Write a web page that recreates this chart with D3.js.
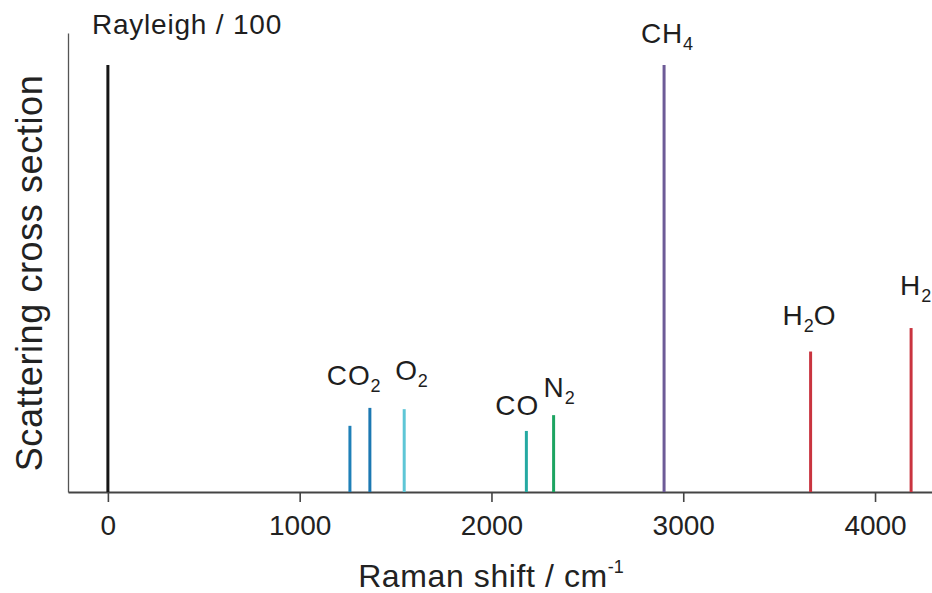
<!DOCTYPE html>
<html>
<head>
<meta charset="utf-8">
<script src="https://cdn.jsdelivr.net/npm/d3@7"></script>
<style>
  html, body { margin: 0; padding: 0; background: #fff; }
  svg { display: block; font-family: "Liberation Sans", Arial, Helvetica, sans-serif; }
</style>
</head>
<body>
<svg id="chart" width="932" height="593"></svg>
<script>
// Raman lines: shift (cm^-1) and relative scattering cross section
const species = ["Rayleigh", "CO2 (1285)", "CO2 (1388)", "O2", "CO", "N2", "CH4", "H2O", "H2"];
const shifts = [0, 1262, 1366, 1545, 2182, 2324, 2900, 3664, 4188];
const crossSections = [100, 15.5, 19.7, 19.4, 14.3, 18.0, 100, 32.9, 38.4];
const lineColors = ["#161616", "#1f80b8", "#1c78b2", "#5ec6d6", "#25a9a2", "#1ca461", "#6d5b97", "#c9343f", "#c9343f"];

// Label text: [main, subscript, trailing] parts, attached to a line index
const labelLine = [0, 2, 3, 4, 5, 6, 7, 8];
const labelParts = [
  ["Rayleigh / 100", "", ""],
  ["CO", "2", ""],
  ["O", "2", ""],
  ["CO", "", ""],
  ["N", "2", ""],
  ["CH", "4", ""],
  ["H", "2", "O"],
  ["H", "2", ""]
];
const xTicks = [0, 1000, 2000, 3000, 4000];

// label offsets from each line's top (px)
const labelOffsets = [[-16, -31], [-43, -23], [-9, -29], [-31, -16], [-10, -18], [-23, -22], [-28, -27], [-11, -33]];

const svg = d3.select("#chart");
const x0 = 68, x1 = 932, yBase = 492, yTop = 33;

const x = d3.scaleLinear().domain([-208, 4297]).range([x0, x1]);
const y = d3.scaleLinear().domain([0, 107.5]).range([yBase, yTop]);

// y axis: plain line, no ticks
const yAxis = svg.append("g")
  .attr("transform", `translate(${x0},0)`)
  .call(d3.axisLeft(y).tickValues([]).tickSizeOuter(0));
yAxis.select(".domain").attr("stroke", "#555").attr("stroke-width", 1.3);

// x axis
const xAxis = svg.append("g")
  .attr("transform", `translate(0,${yBase})`)
  .call(d3.axisBottom(x).tickValues(xTicks).tickSize(10).tickSizeOuter(0).tickFormat(d3.format("d")));
xAxis.select(".domain").attr("stroke", "#444").attr("stroke-width", 2);
xAxis.selectAll(".tick line").attr("stroke", "#444").attr("stroke-width", 1.6);
xAxis.selectAll(".tick text")
  .attr("y", 43).attr("dy", 0)
  .attr("fill", "#222")
  .style("font-family", "'Liberation Sans', Arial, sans-serif")
  .style("font-size", "28px");

// Raman lines
svg.append("g").selectAll("line")
  .data(shifts)
  .join("line")
  .attr("x1", d => x(d)).attr("x2", d => x(d))
  .attr("y1", yBase)
  .attr("y2", (d, i) => y(crossSections[i]))
  .attr("stroke", (d, i) => lineColors[i])
  .attr("stroke-width", 3);

// line labels
const labels = svg.append("g").selectAll("text")
  .data(labelParts)
  .join("text")
  .attr("x", (d, i) => x(shifts[labelLine[i]]) + labelOffsets[i][0])
  .attr("y", (d, i) => y(crossSections[labelLine[i]]) + labelOffsets[i][1])
  .attr("fill", "#1e1e1e")
  .style("font-size", "28px")
  .style("letter-spacing", "0.8px");

labels.append("tspan").text(d => d[0]);
labels.filter(d => d[1]).append("tspan")
  .attr("dy", 7).style("font-size", "18px").style("letter-spacing", "0px")
  .text(d => d[1]);
labels.filter(d => d[2]).append("tspan")
  .attr("dy", -7)
  .text(d => d[2]);

// axis titles
const xt = svg.append("text")
  .attr("x", 491).attr("y", 587)
  .attr("text-anchor", "middle")
  .attr("fill", "#222")
  .style("font-size", "32px")
  .style("letter-spacing", "0.6px");
xt.append("tspan").text("Raman shift / cm");
xt.append("tspan").attr("dy", -14).style("font-size", "18px").style("letter-spacing", "0px").text("-1");

svg.append("text")
  .attr("transform", "translate(42,273) rotate(-90)")
  .attr("text-anchor", "middle")
  .attr("fill", "#222")
  .style("font-size", "36px")
  .style("letter-spacing", "0.6px")
  .text("Scattering cross section");
</script>
</body>
</html>
